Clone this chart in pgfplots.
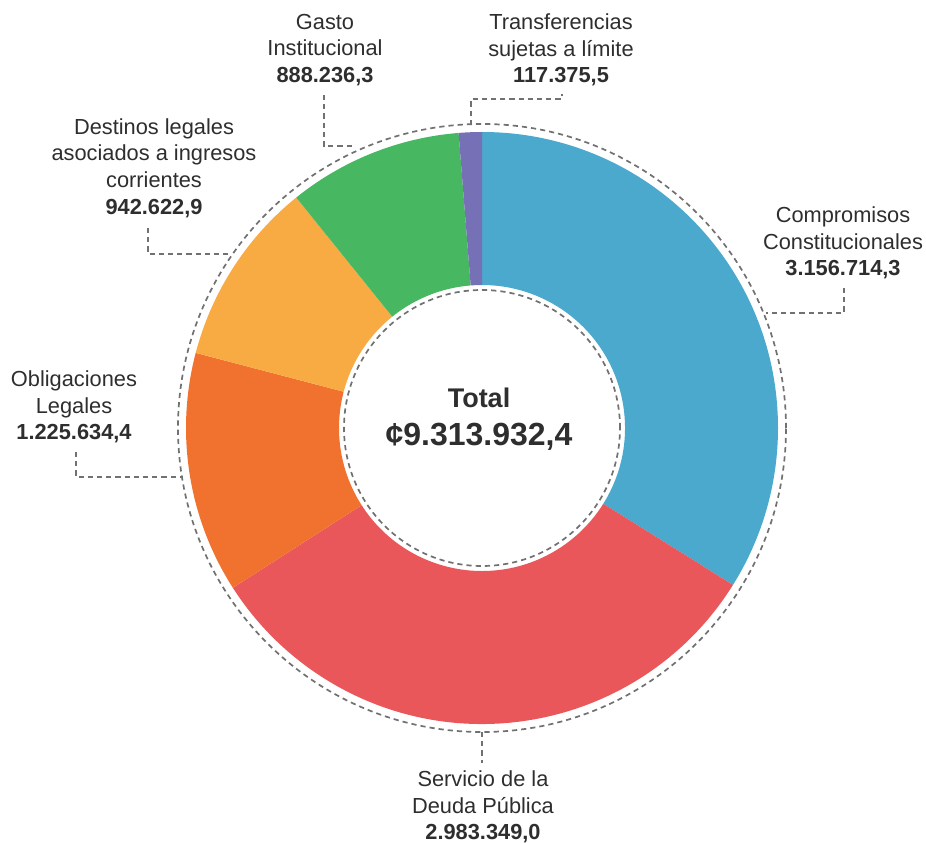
\documentclass[border=0pt]{standalone}
\usepackage{pgfplots}
\pgfplotsset{compat=1.18}
\usepackage{pgfplotstable}
\usepackage{fontspec}
\setmainfont{Liberation Sans}

\definecolor{cCC}{HTML}{4AA9CD}
\definecolor{cSD}{HTML}{E9575A}
\definecolor{cOL}{HTML}{F0722E}
\definecolor{cDL}{HTML}{F8AB42}
\definecolor{cGI}{HTML}{48B762}
\definecolor{cTR}{HTML}{7670B6}
\definecolor{txt}{HTML}{2E2E2E}
\definecolor{lead}{HTML}{717171}

% gasto por partida, en millones de colones
\pgfplotstableread[col sep=comma]{
name,value,color
Compromisos,3156714.3,cCC
Deuda,2983349.0,cSD
Obligaciones,1225634.4,cOL
Destinos,942622.9,cDL
Gasto,888236.3,cGI
Transferencias,117375.5,cTR
}\gastos

\begin{document}
\begin{tikzpicture}[
  leader/.style={draw=lead, line width=0.85pt, dash pattern=on 2.6pt off 2pt},
  lbl/.style={align=center, inner sep=0pt, text=txt, font=\fontsize{10.9}{13.3}\selectfont}
]
\begin{axis}[
  hide axis, scale only axis,
  width=463pt, height=421.5pt,
  xmin=0, xmax=926, ymin=0, ymax=843,
  clip=false
]
\path (axis cs:0,0) rectangle (axis cs:926,843);
\def\ang{90}
\pgfplotsforeachungrouped \i in {0,...,5}{%
  \pgfplotstablegetelem{\i}{value}\of\gastos \let\val\pgfplotsretval
  \pgfplotstablegetelem{\i}{color}\of\gastos \let\col\pgfplotsretval
  \edef\angb{\fpeval{round(\ang - 360*\val/9313932.4, 4)}}%
  \edef\cmd{\noexpand\fill[\col] ([shift={(\ang:148pt)}]axis cs:482,415)
    arc[start angle=\ang, end angle=\angb, radius=148pt]
    -- ([shift={(\angb:71.5pt)}]axis cs:482,415)
    arc[start angle=\angb, end angle=\ang, radius=71.5pt] -- cycle;}%
  \cmd
  \let\ang\angb
}
\draw[leader] (axis cs:482,415) circle[radius=152pt];
\draw[leader] (axis cs:482,415) circle[radius=69pt];

% lineas guia
\draw[leader] (axis cs:324,748) -- (axis cs:324,697) -- (axis cs:354,697);
\draw[leader] (axis cs:471,718) -- (axis cs:471,744) -- (axis cs:562,744) -- (axis cs:562,749);
\draw[leader] (axis cs:148,615) -- (axis cs:148,589) -- (axis cs:228,589);
\draw[leader] (axis cs:844,555) -- (axis cs:844,530) -- (axis cs:766,530);
\draw[leader] (axis cs:76,391) -- (axis cs:76,366) -- (axis cs:183,366);
\draw[leader] (axis cs:482,111) -- (axis cs:482,80);

% etiquetas
\node[lbl] at (axis cs:325,793) {Gasto\\Institucional\\\textbf{888.236,3}};
\node[lbl] at (axis cs:561,793) {Transferencias\\sujetas a límite\\\textbf{117.375,5}};
\node[lbl] at (axis cs:154,675) {Destinos legales\\asociados a ingresos\\corrientes\\\textbf{942.622,9}};
\node[lbl] at (axis cs:843,600) {Compromisos\\Constitucionales\\\textbf{3.156.714,3}};
\node[lbl] at (axis cs:74,436) {Obligaciones\\Legales\\\textbf{1.225.634,4}};
\node[lbl] at (axis cs:483,36) {Servicio de la\\Deuda Pública\\\textbf{2.983.349,0}};

\node[text=txt, font=\bfseries\fontsize{13.5}{15}\selectfont] at (axis cs:479,445) {Total};
\node[text=txt, font=\bfseries\fontsize{16}{18}\selectfont] at (axis cs:479,406) {¢9.313.932,4};
\end{axis}
\end{tikzpicture}
\end{document}
